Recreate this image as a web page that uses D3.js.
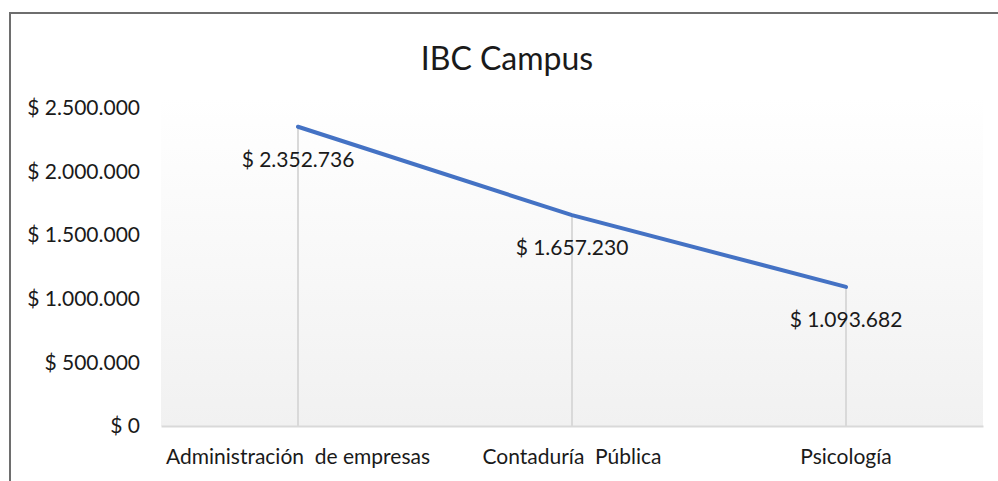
<!DOCTYPE html>
<html>
<head>
<meta charset="utf-8">
<script src="https://cdn.jsdelivr.net/npm/d3@7"></script>
<style>
  body { margin: 0; background: #fff; }
  svg { display: block; font-family: Lato, "Open Sans", sans-serif; }
</style>
</head>
<body>
<svg></svg>
<script>
// data
var categories = ["Administración  de empresas", "Contaduría  Pública", "Psicología"];
var values = [2352736, 1657230, 1093682];
var yTicks = [0, 500000, 1000000, 1500000, 2000000, 2500000];
var title = "IBC Campus";

var W = 998, H = 481;
var svg = d3.select("svg").attr("width", W).attr("height", H);

var plot = {left: 161, right: 983, top: 108, bottom: 426};
var fs = 21;

// money format like "$ 2.352.736"
var money = function(v){
    return "$ " + d3.format(",")(v).replace(/,/g, ".");
};

var x = d3.scaleBand().domain(categories).range([plot.left, plot.right]);
var y = d3.scaleLinear().domain([0, 2500000]).range([plot.bottom, plot.top]);

// plot area gradient
var defs = svg.append("defs");
var grad = defs.append("linearGradient").attr("id", "bg")
    .attr("x1", 0).attr("y1", 0).attr("x2", 0).attr("y2", 1);
grad.append("stop").attr("offset", "0%").attr("stop-color", "#ffffff");
grad.append("stop").attr("offset", "100%").attr("stop-color", "#f1f1f1");

svg.append("rect")
    .attr("x", plot.left).attr("y", plot.top - 10)
    .attr("width", plot.right - plot.left).attr("height", plot.bottom - plot.top + 10)
    .attr("fill", "url(#bg)");

// outer border (runs off the right and bottom)
svg.append("rect")
    .attr("x", 10).attr("y", 13)
    .attr("width", 1000).attr("height", 500)
    .attr("fill", "none").attr("stroke", "#6e6e6e").attr("stroke-width", 2);

// title
svg.append("text")
    .attr("x", 507).attr("y", 70)
    .attr("text-anchor", "middle")
    .attr("font-size", 32).attr("fill", "#1a1a1a")
    .text(title);

// y axis labels
var yAxis = d3.axisLeft(y).tickValues(yTicks).tickFormat(money).tickSize(0).tickPadding(21);
var yg = svg.append("g").attr("transform", "translate(" + plot.left + ",0)").call(yAxis);
yg.select(".domain").remove();
yg.selectAll("text").attr("font-size", fs).attr("fill", "#1a1a1a").attr("font-family", "Lato, sans-serif");

// x axis
var xAxis = d3.axisBottom(x).tickSize(0).tickPadding(23);
var xg = svg.append("g").attr("transform", "translate(0," + plot.bottom + ")").call(xAxis);
xg.select(".domain").attr("stroke", "#d9d9d9").attr("stroke-width", 2);
xg.selectAll("text").attr("font-size", fs).attr("fill", "#1a1a1a")
    .attr("font-family", "Lato, sans-serif").style("white-space", "pre");

var cx = function(d, i){ return x(categories[i]) + x.bandwidth() / 2; };

// drop lines
svg.selectAll("line.drop")
    .data(values).enter()
    .append("line")
    .attr("class", "drop")
    .attr("x1", cx).attr("x2", cx)
    .attr("y1", function(d){ return y(d); })
    .attr("y2", plot.bottom)
    .attr("stroke", "#d9d9d9").attr("stroke-width", 2);

// series line
var line = d3.line()
    .x(function(d, i){ return cx(d, i); })
    .y(function(d){ return y(d); });

svg.append("path")
    .datum(values)
    .attr("d", line)
    .attr("fill", "none")
    .attr("stroke", "#4472c4")
    .attr("stroke-width", 4)
    .attr("stroke-linecap", "round");

// data labels below points
svg.selectAll("text.lbl")
    .data(values).enter()
    .append("text")
    .attr("class", "lbl")
    .attr("x", cx)
    .attr("y", function(d){ return y(d) + 40; })
    .attr("text-anchor", "middle")
    .attr("font-size", fs).attr("fill", "#1a1a1a")
    .text(money);
</script>
</body>
</html>
